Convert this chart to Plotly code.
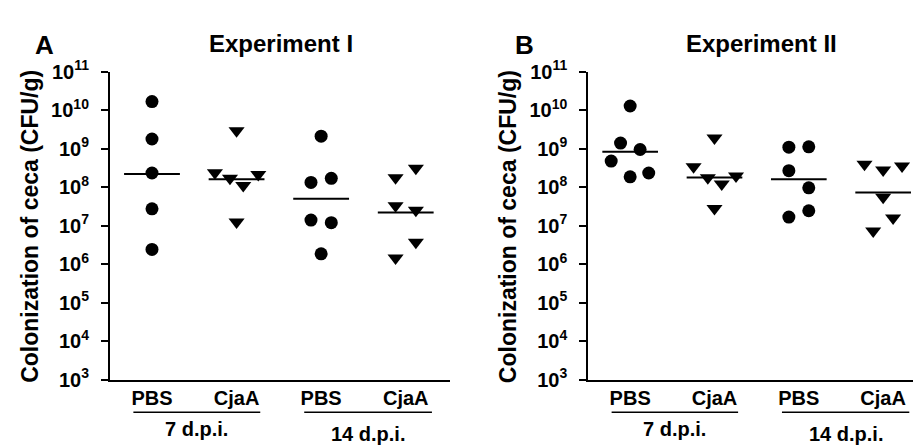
import plotly.graph_objects as go

# ---------------- data ----------------
categories = ["PBS", "CjaA", "PBS", "CjaA"]
group_labels = ["7 d.p.i.", "14 d.p.i."]
group_spans = [(0.78, 2.28), (2.80, 4.31)]
tick_exponents = list(range(3, 12))
panel_letters = ["A", "B"]
panel_titles = ["Experiment I", "Experiment II"]
y_title = "Colonization of ceca (CFU/g)"

# Experiment I  (CFU/g)
exp1_pbs_7 = [1.68e10, 1.79e9, 2.34e8, 2.75e7, 2.43e6]
exp1_cjaa_7 = [2.92e9, 2.39e8, 1.70e8, 1.11e8, 2.14e8, 1.25e7]
exp1_pbs_14 = [2.12e9, 1.33e8, 1.70e8, 1.40e7, 1.20e7, 1.86e6]
exp1_cjaa_14 = [1.77e8, 3.09e8, 3.31e7, 2.51e7, 3.72e6, 1.45e6]
exp1_means = [2.2e8, 1.6e8, 5.0e7, 2.2e7]

# Experiment II (CFU/g)
exp2_pbs_7 = [1.29e10, 1.40e9, 9.55e8, 4.79e8, 1.86e8, 2.34e8]
exp2_cjaa_7 = [1.89e9, 3.39e8, 1.77e8, 1.21e8, 1.95e8, 2.79e7]
exp2_pbs_14 = [1.10e9, 1.12e9, 2.69e8, 9.66e7, 2.45e7, 1.68e7]
exp2_cjaa_14 = [3.98e8, 2.82e8, 3.55e8, 5.50e7, 1.58e7, 7.24e6]
exp2_means = [8.4e8, 1.8e8, 1.6e8, 7.3e7]

# horizontal scatter offsets of the points within a group (category units)
exp1_pbs_7_jit = [0, 0, 0, 0, 0]
exp1_cjaa_7_jit = [0, -0.256, -0.078, 0.079, 0.257, 0]
exp1_pbs_14_jit = [0, -0.12, 0.12, -0.12, 0.12, 0]
exp1_cjaa_14_jit = [-0.12, 0.12, -0.12, 0.12, 0.12, -0.12]
exp2_pbs_7_jit = [0, -0.114, 0.118, -0.225, 0, 0.22]
exp2_cjaa_7_jit = [0, -0.248, -0.079, 0.086, 0.255, 0]
exp2_pbs_14_jit = [-0.118, 0.118, -0.118, 0.118, 0.118, -0.118]
exp2_cjaa_14_jit = [-0.221, 0, 0.224, 0, 0.118, -0.118]

experiments = [
    ([exp1_pbs_7, exp1_cjaa_7, exp1_pbs_14, exp1_cjaa_14],
     [exp1_pbs_7_jit, exp1_cjaa_7_jit, exp1_pbs_14_jit, exp1_cjaa_14_jit],
     exp1_means),
    ([exp2_pbs_7, exp2_cjaa_7, exp2_pbs_14, exp2_cjaa_14],
     [exp2_pbs_7_jit, exp2_cjaa_7_jit, exp2_pbs_14_jit, exp2_cjaa_14_jit],
     exp2_means),
]

# ---------------- figure ----------------
W, H = 921, 445
FONT = "Liberation Sans"
symbols = ["circle", "triangle-down", "circle", "triangle-down"]
sizes = [13, 14, 13, 14]

def px(v):
    return v / W

def py(v):
    return 1 - v / H

x_domains = [[px(101.7), px(441.7)], [px(580), px(919)]]
y_domain = [py(379), py(52.7)]

fig = go.Figure()

for k, (groups, jits, means) in enumerate(experiments):
    xa = "x" if k == 0 else "x2"
    ya = "y" if k == 0 else "y2"
    for i, (vals, jit) in enumerate(zip(groups, jits)):
        fig.add_trace(go.Scatter(
            x=[i + 1 + j for j in jit], y=vals, mode="markers",
            marker=dict(symbol=symbols[i], size=sizes[i], color="black",
                        line=dict(width=0)),
            xaxis=xa, yaxis=ya, showlegend=False, hoverinfo="y"))
        fig.add_trace(go.Scatter(
            x=[i + 1 - 0.33, i + 1 + 0.33], y=[means[i], means[i]],
            mode="lines", line=dict(color="black", width=2),
            xaxis=xa, yaxis=ya, showlegend=False, hoverinfo="skip"))

axis_common = dict(showline=True, linecolor="black", linewidth=1.5,
                   showgrid=False, zeroline=False)

for k in range(2):
    sfx = "" if k == 0 else "2"
    fig.update_layout(**{
        "xaxis" + sfx: dict(
            domain=x_domains[k], range=[0.5, 4.52], anchor="y" + sfx,
            tickmode="array", tickvals=[1, 2, 3, 4],
            ticktext=["<b>%s</b>" % c for c in categories],
            ticks="", ticklabelstandoff=0,
            tickfont=dict(family=FONT, size=20, color="black"),
            **axis_common),
        "yaxis" + sfx: dict(
            domain=y_domain, type="log", range=[3, 11], anchor="x" + sfx,
            tickmode="array", tickvals=[10 ** e for e in tick_exponents],
            ticktext=["<b>10<sup>%d</sup></b>" % e for e in tick_exponents],
            ticks="outside", ticklen=7, tickwidth=1.5, tickcolor="black",
            ticklabelstandoff=8,
            tickfont=dict(family=FONT, size=20, color="black"),
            **axis_common),
    })

    xa = "x" if k == 0 else "x2"
    # group underline + group label
    label_y = [py(431), py(436)]
    for g, (a, b) in enumerate(group_spans):
        fig.add_shape(type="line", xref=xa, yref="paper", x0=a, x1=b,
                      y0=py(413.5), y1=py(413.5),
                      line=dict(color="black", width=1.5))
        fig.add_annotation(text="<b>%s</b>" % group_labels[g], xref=xa, yref="paper",
                           x=(a + b) / 2, y=label_y[g], showarrow=False,
                           xanchor="center", yanchor="middle",
                           font=dict(family=FONT, size=20, color="black"))

# panel letters, titles, y-axis titles
letter_x = [36.7, 516.7]
title_x = [272.5, 753.3]
ytitle_x = [22.5, 500.8]
for k in range(2):
    fig.add_annotation(text="<b>%s</b>" % panel_letters[k], xref="paper", yref="paper",
                       x=px(letter_x[k]), y=py(24), showarrow=False,
                       xanchor="center", yanchor="middle",
                       font=dict(family=FONT, size=26, color="black"))
    fig.add_annotation(text="<b>%s</b>" % panel_titles[k], xref="paper", yref="paper",
                       x=px(title_x[k]), y=py(23), showarrow=False,
                       xanchor="center", yanchor="middle",
                       font=dict(family=FONT, size=24, color="black"))
    fig.add_annotation(text="<b>%s</b>" % y_title, xref="paper", yref="paper",
                       x=px(ytitle_x[k]), y=py(216.5), showarrow=False,
                       textangle=-90, xanchor="center", yanchor="middle",
                       font=dict(family=FONT, size=23, color="black"))

fig.update_layout(width=W, height=H, margin=dict(l=0, r=0, t=0, b=0),
                  paper_bgcolor="white", plot_bgcolor="white", showlegend=False)

fig.write_html("out.html")
